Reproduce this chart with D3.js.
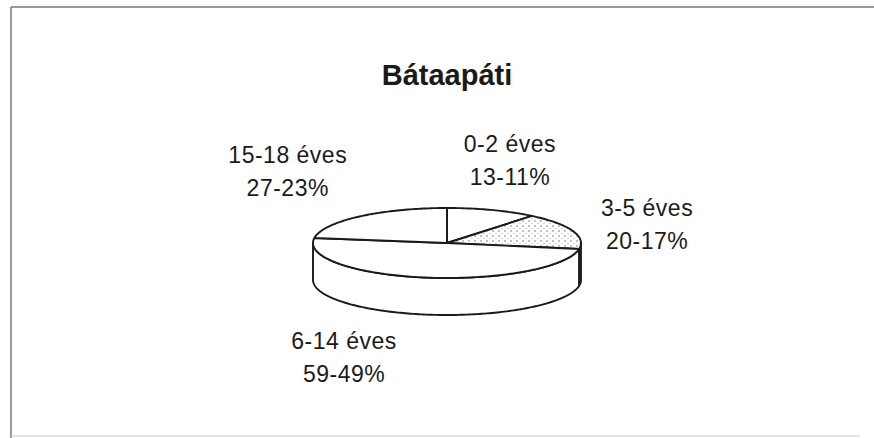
<!DOCTYPE html>
<html>
<head>
<meta charset="utf-8">
<script src="https://cdn.jsdelivr.net/npm/d3@7"></script>
<style>
  body { margin: 0; background: #fff; }
  text { font-family: "Liberation Sans", Arial, sans-serif; fill: #1a1a1a; }
</style>
</head>
<body>
<div id="chart"></div>
<script>
// chart data
var title = "Bátaapáti";
var categories = ["0-2 éves", "3-5 éves", "6-14 éves", "15-18 éves"];
var counts = [13, 20, 59, 27];
var percents = [11, 17, 49, 23];
var dotted = [false, true, false, false];

// layout
var W = 874, H = 438;
var cx = 447, cy = 243, rx = 134, ry = 35, depth = 37;
var labelRx = 190, labelRy = 80;
// small per-label nudges, like the hand placed labels of the original
var labelNudge = [[-1, -5], [22, 12], [-73, 1], [-35, -8]];

var svg = d3.select("#chart").append("svg")
	.attr("width", W)
	.attr("height", H);

var defs = svg.append("defs");
var pat = defs.append("pattern")
	.attr("id", "dots")
	.attr("width", 6)
	.attr("height", 5)
	.attr("patternUnits", "userSpaceOnUse");
pat.append("rect").attr("width", 6).attr("height", 5).attr("fill", "#fff");
pat.append("circle").attr("cx", 1).attr("cy", 1).attr("r", 0.7).attr("fill", "#555");
pat.append("circle").attr("cx", 4).attr("cy", 3.5).attr("r", 0.6).attr("fill", "#999");

// frame
svg.append("line").attr("x1", 11).attr("y1", 7).attr("x2", 11).attr("y2", H)
	.attr("stroke", "#777").attr("stroke-width", 1.5);
svg.append("line").attr("x1", 11).attr("y1", 7).attr("x2", W).attr("y2", 7)
	.attr("stroke", "#777").attr("stroke-width", 1.5);
svg.append("line").attr("x1", 11).attr("y1", 436).attr("x2", 860).attr("y2", 436)
	.attr("stroke", "#ccc").attr("stroke-width", 1);

svg.append("text")
	.attr("x", cx)
	.attr("y", 85)
	.attr("text-anchor", "middle")
	.style("font-weight", "bold")
	.style("font-size", "29px")
	.text(title);

var data = categories.map(function (c, i) {
	return {name: c, count: counts[i], pct: percents[i], dotted: dotted[i]};
});

var pie = d3.pie().sort(null).value(function (d) { return d.count; });
var arcs = pie(data);

function px(a) { return cx + rx * Math.sin(a); }
function py(a, dy) { return cy - ry * Math.cos(a) + (dy || 0); }

function ring(a0, a1, dy) {
	var n = Math.max(2, Math.ceil(Math.abs(a1 - a0) / 0.02));
	return d3.range(n + 1).map(function (k) {
		var a = a0 + (a1 - a0) * k / n;
		return [px(a), py(a, dy)];
	});
}

var line = d3.line();

function topPath(d) {
	return line([[cx, cy]].concat(ring(d.startAngle, d.endAngle, 0))) + "Z";
}

function sidePath(d) {
	var a0 = Math.max(d.startAngle, Math.PI / 2);
	var a1 = Math.min(d.endAngle, Math.PI * 1.5);
	if (a1 <= a0) return null;
	return line(ring(a0, a1, 0).concat(ring(a1, a0, depth))) + "Z";
}

function fillOf(d) { return d.data.dotted ? "url(#dots)" : "#fff"; }

svg.append("g").selectAll("path")
	.data(arcs.filter(function (d) { return sidePath(d) != null; }))
	.enter()
	.append("path")
	.attr("d", sidePath)
	.attr("fill", fillOf)
	.attr("stroke", "#1a1a1a")
	.attr("stroke-width", 1.9)
	.attr("stroke-linejoin", "round");

svg.append("g").selectAll("path")
	.data(arcs)
	.enter()
	.append("path")
	.attr("d", topPath)
	.attr("fill", fillOf)
	.attr("stroke", "#1a1a1a")
	.attr("stroke-width", 1.9)
	.attr("stroke-linejoin", "round");

// labels
var lab = svg.append("g").selectAll("g")
	.data(arcs)
	.enter()
	.append("g")
	.attr("transform", function (d, i) {
		var m = (d.startAngle + d.endAngle) / 2;
		var x = cx + labelRx * Math.sin(m) + labelNudge[i][0];
		var y = cy - labelRy * Math.cos(m) + (Math.cos(m) < 0 ? depth : 0) + labelNudge[i][1];
		return "translate(" + x + "," + y + ")";
	});

lab.append("text")
	.attr("text-anchor", "middle")
	.attr("y", -11)
	.style("font-size", "23px")
	.style("letter-spacing", "0.5px")
	.text(function (d) { return d.data.name; });

lab.append("text")
	.attr("text-anchor", "middle")
	.attr("y", 22)
	.style("font-size", "23px")
	.style("letter-spacing", "0.5px")
	.text(function (d) { return d.data.count + "-" + d.data.pct + "%"; });
</script>
</body>
</html>
